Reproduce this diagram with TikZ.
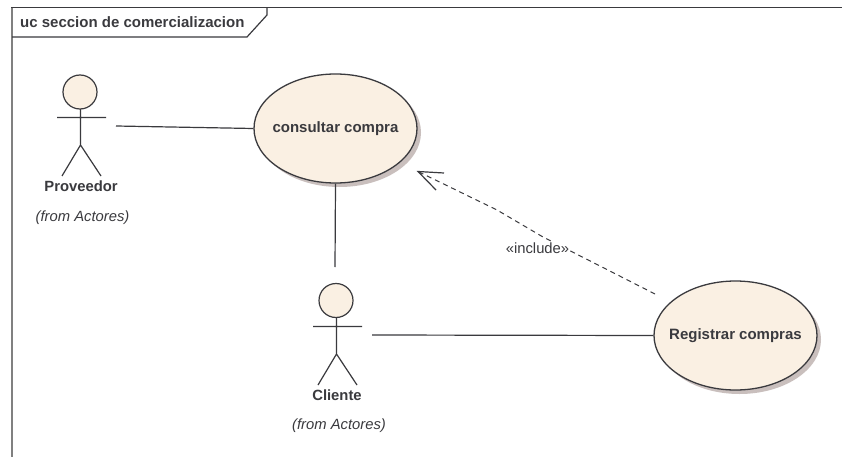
\documentclass[tikz,border=0pt]{standalone}
\usepackage{fontspec}
\setmainfont{Liberation Sans}
\usetikzlibrary{shapes.geometric,shadows,arrows.meta}
\definecolor{ink}{HTML}{3A3A3E}
\definecolor{cream}{HTML}{FAF0E3}
\definecolor{shade}{HTML}{C9BFBD}
\definecolor{sideline}{HTML}{808080}
\tikzset{
  line/.style={draw=ink,line width=1.2pt},
  usecase/.style={ellipse,draw=ink,line width=1.3pt,fill=cream,minimum width=163pt,minimum height=109pt,inner sep=-15pt,text=ink,font=\fontsize{15}{16}\selectfont\bfseries,
    drop shadow={shadow xshift=4pt,shadow yshift=-4pt,fill=shade,opacity=1}},
  head/.style={circle,draw=ink,line width=1.2pt,fill=cream,minimum size=34pt,inner sep=0pt},
  actorname/.style={text=ink,font=\fontsize{14.8}{16}\selectfont\bfseries,inner sep=0pt},
  origin/.style={text=ink,font=\fontsize{14.8}{16}\selectfont\itshape,inner sep=0pt},
  dep/.style={draw=ink,line width=1pt,dash pattern=on 5pt off 4pt},
  framelabel/.style={text=ink,font=\fontsize{15}{16}\selectfont\bfseries,inner sep=0pt,anchor=west},
}
\begin{document}
\begin{tikzpicture}[x=1pt,y=-1pt]
\useasboundingbox[fill=white] (0,0) rectangle (842,457);
% frame
\draw[draw=sideline,line width=1.6pt] (12,457) -- (12,7.5);
\draw[line] (11.2,7.5) -- (842,7.5);
\draw[line] (12,37) -- (247,37) -- (267,15) -- (267,7.5);
\node[framelabel] (title) at (20,22.5) {uc seccion de comercializacion};
% use cases
\node[usecase] (consultar) at (335.5,128.5) {consultar compra};
\node[usecase] (registrar) at (735.5,335.5) {Registrar compras};
% actor Proveedor
\draw[line] (80.5,109) -- (80.5,145) (57,117.5) -- (106,117.5) (62,176) -- (80.5,145) -- (101,176);
\node[head] (provhead) at (80,92) {};
\node[actorname] (prov) at (81,186) {Proveedor};
\node[origin] (provfrom) at (82.5,218) {(from Actores)};
% actor Cliente
\draw[line] (336.5,317) -- (336.5,354) (313,326.5) -- (362,326.5) (318,385) -- (336.5,354) -- (357,385);
\node[head] (clihead) at (336,300.5) {};
\node[actorname] (cli) at (337,395) {Cliente};
\node[origin] (clifrom) at (339,425.5) {(from Actores)};
% connectors
\coordinate (provend) at (116,126);
\coordinate (cliend) at (372,335);
\coordinate (clitop) at (335,267);
\coordinate (inctip) at (418,171.5);
\coordinate (incstart) at (655,294);
\coordinate (b1) at (497,210);
\coordinate (b2) at (543,237);
\draw[line] (provend) -- (consultar.west);
\draw[line] (consultar.south) -- (clitop);
\draw[line] (cliend) -- (registrar.west);
\draw[dep] (incstart) -- (b2) -- (b1) -- (inctip);
\draw[line] (444,173) -- (inctip) -- (436,190);
\node[fill=white,text=ink,font=\fontsize{14.8}{16}\selectfont,inner sep=1pt] (inc) at (537.5,248) {«include»};
\end{tikzpicture}
\end{document}
